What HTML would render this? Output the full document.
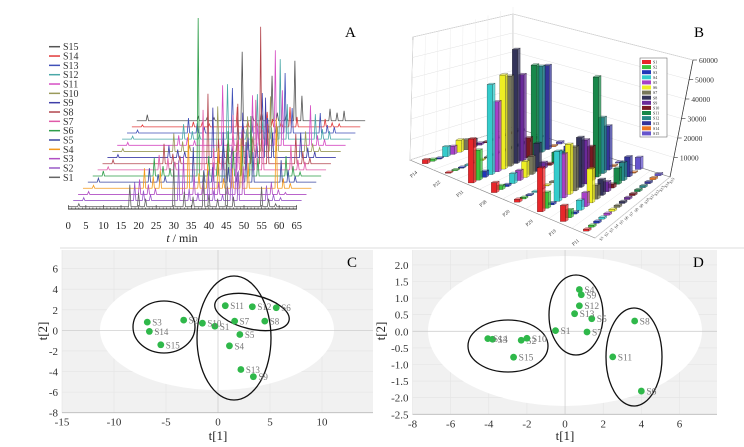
<!DOCTYPE html>
<html><head><meta charset="utf-8"><style>
body{margin:0;background:#fff}
svg{display:block}
text{font-family:"Liberation Serif",serif}
</style></head><body>
<svg id="fig" width="744" height="447" viewBox="0 0 744 447" xmlns="http://www.w3.org/2000/svg">
<g id="pA"></g>
<g id="pB"></g>
<g id="pC"></g>
<g id="pD"></g>
<line x1="60" y1="248" x2="744" y2="248" stroke="#ddd" stroke-width="1"/>
<text x="345" y="37" font-size="15">A</text>
<text x="694" y="37" font-size="15">B</text>
<text x="347" y="267" font-size="15">C</text>
<text x="693" y="267" font-size="15">D</text>
</svg>
<script>
const NS="http://www.w3.org/2000/svg";
function mk(p,tag,at){const e=document.createElementNS(NS,tag);for(const k in at)e.setAttribute(k,at[k]);p.appendChild(e);return e;}

// ---------- Panel A data ----------
const sampleNames=["S1","S2","S3","S4","S5","S6","S7","S8","S9","S10","S11","S12","S13","S14","S15"];
const traceColors=["#666","#9a5cc8","#b14fc4","#f39a1c","#3a47a0","#2e9e4a","#e05aa8","#b2454d","#3f3fa8","#9a9a5a","#d64fc4","#4aa8a8","#4050b8","#e23a3a","#555"];
const peakTimes=[3,17.5,20,22,30,33,35.5,38.5,40,42.5,45,47,55,57,59];
const peakH=[
[3,22,14,8,45,15,10,35,12,8,48,10,20,8,3],
[3,18,10,6,40,12,8,30,10,6,45,30,15,6,3],
[3,15,10,6,38,20,12,32,12,8,42,28,12,5,2],
[3,20,12,18,55,15,25,40,10,20,50,25,70,10,5],
[4,14,8,6,35,12,15,50,15,10,40,30,22,12,6],
[5,18,10,8,158,20,15,45,25,30,60,18,20,10,4],
[3,15,12,8,60,22,18,55,30,20,70,40,25,10,8],
[4,20,10,8,70,25,20,60,35,25,137,40,30,12,6],
[3,12,8,6,50,15,12,45,20,15,60,25,25,10,6],
[3,18,10,6,45,12,10,35,15,12,55,25,20,8,4],
[3,10,8,5,60,10,15,50,20,25,95,55,40,10,6],
[3,15,8,5,55,12,10,45,18,12,80,35,25,10,8],
[3,15,10,6,45,10,12,40,15,10,60,25,20,8,6],
[2,5,4,3,20,6,5,15,8,5,20,10,8,4,3],
[6,4,3,3,69,5,8,45,8,6,60,25,12,8,10]];
const timeTicks=[0,5,10,15,20,25,30,35,40,45,50,55,60,65];

(function(){
const g=document.getElementById('pA');
const tx=t=>68.3+t*3.514, base0=206.7, dX=4.89, dY=-6.14;
for(let s=14;s>=0;s--){
  const ox=s*dX, by=base0+s*dY;
  const idx=peakTimes.map((t,i)=>i).sort((a,b)=>peakTimes[a]-peakTimes[b]);
  let d=`M${tx(0)+ox},${by}`;
  idx.forEach(i=>{const x=tx(peakTimes[i])+ox;d+=` L${x-1.2},${by} L${x},${by-peakH[s][i]} L${x+1.2},${by}`;});
  d+=` L${tx(65)+ox},${by}`;
  const p=mk(g,'path',{d,fill:'none',stroke:traceColors[s],'stroke-width':0.8});
  
  
}
for(let s=14;s>=0;s--){
  const y=46.7+(14-s)*9.33;
  const l=mk(g,'line',{x1:49,y1:y,x2:60,y2:y,stroke:traceColors[s],'stroke-width':1.5});
  
  
  const t=mk(g,'text',{x:63,y:y+3.5,'font-size':10,fill:'#333'});t.textContent=sampleNames[s];
  
  
}
const ax=mk(g,'line',{x1:68,y1:209,x2:297,y2:209,stroke:'#333','stroke-width':1});

for(let m=0;m<=65;m++){mk(g,'line',{x1:tx(m),y1:209,x2:tx(m),y2:m%5==0?205:207.5,stroke:'#333','stroke-width':0.6});}
timeTicks.forEach(v=>{const t=mk(g,'text',{x:tx(v),y:229,'font-size':10.5,'text-anchor':'middle',fill:'#222'});t.textContent=v;
 });
const xt=mk(g,'text',{x:182,y:242,'font-size':12,'text-anchor':'middle',fill:'#222'});
xt.innerHTML='<tspan font-style="italic">t</tspan> / min';

})();

// ---------- Panel B data ----------
const barCats=["P14","P22","P31","P38","P20","P29","P19","P11"];
const barColors=["#e8262a","#3cc43c","#2236b8","#35cccc","#a640c8","#eeee22","#77775a","#33335a","#6a2a9a","#7a1a22","#18884a","#278888","#34349a","#ee7722","#6655cc"];
const barVals=[
[2000,1000,500,5000,4000,6000,5000,4000,1000,500,500,500,500,500,500],
[500,500,500,500,500,500,500,500,500,500,500,500,500,500,500],
[22000,15000,3000,45000,35000,47000,45000,57000,43000,10000,45000,43000,42000,500,1000],
[5000,2000,1000,5000,5000,8000,9000,14000,3000,1000,5000,4000,5000,500,500],
[1500,800,500,500,500,500,500,500,500,500,500,500,500,500,500],
[22000,8000,1000,25000,22000,25000,22000,25000,22000,17000,50000,28000,22000,500,500],
[8000,4000,1000,5000,7000,17000,7000,8000,5000,2000,8000,9000,10000,500,6000],
[1000,1000,1000,1000,1000,1000,1000,1000,1000,1000,1000,1000,1000,1000,1000]];
const zTicks=[10000,20000,30000,40000,50000,60000];

(function(){
const g=document.getElementById('pB');
const A=[410,160],B=[595,238],C=[670,177],D=[513,127];
const P=(u,v)=>{const x=(1-u)*(1-v)*A[0]+u*(1-v)*B[0]+u*v*C[0]+(1-u)*v*D[0];
 const y=(1-u)*(1-v)*A[1]+u*(1-v)*B[1]+u*v*C[1]+(1-u)*v*D[1];return [x,y];};
const hs=v=>v/1000*2;
mk(g,'polygon',{points:'410,160 413,37 513,14 513,127',fill:'#fff',stroke:'#999','stroke-width':0.6});
mk(g,'polygon',{points:'513,127 513,14 693,60 670,177',fill:'#fff',stroke:'#999','stroke-width':0.6});
mk(g,'polygon',{points:'410,160 513,127 670,177 595,238',fill:'#fff',stroke:'#888','stroke-width':0.6});
for(let k=1;k<=6;k++){const f=k/6;
 mk(g,'line',{x1:410+3*f,y1:160-123*f,x2:513,y2:127-113*f,stroke:'#e2e2e2','stroke-width':0.5});
 mk(g,'line',{x1:513,y1:127-113*f,x2:670+23*f,y2:177-117*f,stroke:'#e2e2e2','stroke-width':0.5});}
for(let i=0;i<=8;i++){const a=P(i/8,0),b=P(i/8,1);mk(g,'line',{x1:a[0],y1:a[1],x2:b[0],y2:b[1],stroke:'#e6e6e6','stroke-width':0.5});
 const up=i/8;const x1=410+(513-410)*up,y1=160+(127-160)*up;mk(g,'line',{x1:x1,y1:y1,x2:x1+(up<1?3*(1-up):0),y2:y1-120,stroke:'#ececec','stroke-width':0.5});}
const bars=[];
barCats.forEach((c,i)=>barVals[i].forEach((v,j)=>{const p=P((i+0.5)/8,(j+0.5)/15);bars.push({i,j,v,p});}));
bars.sort((a,b)=>a.p[1]-b.p[1]);
bars.forEach(b=>{const [x,y]=b.p,h=hs(b.v),w=5.5,col=barColors[b.j];
 const grp=mk(g,'g',{});
 
 
 mk(grp,'polygon',{points:`${x+w/2},${y} ${x+w/2+2.5},${y-1.5} ${x+w/2+2.5},${y-h-1.5} ${x+w/2},${y-h}`,fill:col,'fill-opacity':0.75,stroke:'#000','stroke-width':0.2});
 mk(grp,'rect',{x:x-w/2,y:y-h,width:w,height:h,fill:col,stroke:'#000','stroke-width':0.2});
 mk(grp,'polygon',{points:`${x-w/2},${y-h} ${x-w/2+2.5},${y-h-1.5} ${x+w/2+2.5},${y-h-1.5} ${x+w/2},${y-h}`,fill:col,'fill-opacity':0.55,stroke:'#000','stroke-width':0.2});
});
barCats.forEach((c,i)=>{const p=P((i+0.5)/8,0);const t=mk(g,'text',{x:p[0]-4,y:p[1]+8,'font-size':5,fill:'#333',transform:`rotate(-40 ${p[0]-4} ${p[1]+8})`,'text-anchor':'end'});t.textContent=c;
 });
sampleNames.forEach((s,j)=>{const p=P(1,(j+0.5)/15);const t=mk(g,'text',{x:p[0]+4,y:p[1]+5,'font-size':4,fill:'#333',transform:`rotate(-60 ${p[0]+4} ${p[1]+5})`});t.textContent=s;
 });
mk(g,'line',{x1:670,y1:177,x2:693,y2:60,stroke:'#333','stroke-width':0.7});
zTicks.forEach(v=>{const f=v/60000,x=670+23*f,y=177-117*f;
 mk(g,'line',{x1:x,y1:y,x2:x+4,y2:y,stroke:'#333','stroke-width':0.6});
 const t=mk(g,'text',{x:x+6,y:y+3,'font-size':7.5,fill:'#333'});t.textContent=v;
 });
const lg=mk(g,'g',{});
mk(lg,'rect',{x:640,y:58,width:27,height:79,fill:'#fff',stroke:'#555','stroke-width':0.5});
sampleNames.forEach((s,j)=>{const y=60+j*5.1;mk(lg,'rect',{x:642,y:y,width:9,height:4,fill:barColors[j]});
 const t=mk(lg,'text',{x:653,y:y+3.6,'font-size':4,fill:'#222'});t.textContent=s;});
})();

// ---------- Panel C data ----------
const cLabels=["S1","S2","S3","S4","S5","S6","S7","S8","S9","S10","S11","S12","S13","S14","S15"];
const cX=[-0.3,-3.3,-6.8,1.1,2.1,5.6,1.6,4.5,3.4,-1.5,0.7,3.3,2.2,-6.6,-5.5];
const cY=[0.4,1.0,0.8,-1.5,-0.4,2.2,0.9,0.9,-4.5,0.7,2.4,2.3,-3.8,-0.1,-1.4];
const cXTicks=[-15,-10,-5,0,5,10];
const cYTicks=[-8,-6,-4,-2,0,2,4,6];
// ---------- Panel D data ----------
const dLabels=["S1","S2","S3","S4","S5","S6","S7","S8","S9","S10","S11","S12","S13","S14","S15"];
const dX=[-0.5,-2.3,-3.8,0.75,1.4,4.0,1.15,3.65,0.85,-2.0,2.5,0.75,0.5,-4.05,-2.7];
const dY=[0.02,-0.27,-0.24,1.26,0.38,-1.8,-0.02,0.31,1.1,-0.21,-0.77,0.77,0.53,-0.22,-0.78];
const dXTicks=[-8,-6,-4,-2,0,2,4,6];
const dYTicks=[-2.5,-2.0,-1.5,-1.0,-0.5,0.0,0.5,1.0,1.5,2.0];

function scatter(g,o){
 const sx=v=>o.x0+(v-o.xmin)*o.kx, sy=v=>o.y0-(v-o.ymin)*o.ky;
 const L=sx(o.xmin),R=o.right,T=o.top,Bt=sy(o.ymin);
 mk(g,'rect',{x:L,y:T,width:R-L,height:Bt-T,fill:'#f1f1f1'});
 o.xt.forEach(v=>mk(g,'line',{x1:sx(v),y1:T,x2:sx(v),y2:Bt,stroke:'#e4e4e4','stroke-width':0.6}));
 o.yt.forEach(v=>mk(g,'line',{x1:L,y1:sy(v),x2:R,y2:sy(v),stroke:'#e4e4e4','stroke-width':0.6}));
 const el=mk(g,'ellipse',{cx:o.ell[0],cy:o.ell[1],rx:o.ell[2],ry:o.ell[3],fill:'#fff'});
 
 mk(g,'line',{x1:L,y1:sy(0),x2:R,y2:sy(0),stroke:'#d0d0d0','stroke-width':0.8});
 mk(g,'line',{x1:sx(0),y1:T,x2:sx(0),y2:Bt,stroke:'#d0d0d0','stroke-width':0.8});
 mk(g,'line',{x1:L,y1:Bt,x2:R,y2:Bt,stroke:'#bbb','stroke-width':0.8});
 o.xt.forEach(v=>{const t=mk(g,'text',{x:sx(v),y:Bt+13,'font-size':11,'text-anchor':'middle',fill:'#333'});t.textContent=v;
  });
 o.yt.forEach(v=>{const t=mk(g,'text',{x:L-4,y:sy(v)+4,'font-size':11,'text-anchor':'end',fill:'#333'});t.textContent=o.fmt(v);
  });
 const xl=mk(g,'text',{x:o.xlab[0],y:o.xlab[1],'font-size':13,'text-anchor':'middle',fill:'#222'});xl.textContent='t[1]';
 
 const yl=mk(g,'text',{x:o.ylab[0],y:o.ylab[1],'font-size':13,'text-anchor':'middle',fill:'#222',transform:`rotate(-90 ${o.ylab[0]} ${o.ylab[1]})`});yl.textContent='t[2]';
 
 o.groups.forEach(e=>{const c=mk(g,'ellipse',{cx:e[0],cy:e[1],rx:e[2],ry:e[3],fill:'none',stroke:'#111','stroke-width':1.3,transform:`rotate(${e[4]} ${e[0]} ${e[1]})`});
  });
 o.X.forEach((v,i)=>{const x=sx(v),y=sy(o.Y[i]);
  const p=mk(g,'circle',{cx:x,cy:y,r:3.4,fill:'#2fb84a'});
  
  const t=mk(g,'text',{x:x+5,y:y+3.5,'font-size':o.fs,fill:'#777','font-family':o.ff});t.textContent=o.lab[i];
  });
}
scatter(document.getElementById('pC'),{x0:62,xmin:-15,kx:10.4,y0:412.7,ymin:-8,ky:10.29,right:373,top:250,
 xt:cXTicks,yt:cYTicks,fmt:v=>v,ell:[217,330,117,60],xlab:[218,440],ylab:[47,331],
 groups:[[164,327,31,26,0],[234,338,37,62,0],[252,312,38,17,13]],X:cX,Y:cY,lab:cLabels,fs:9,ff:'"Liberation Sans",sans-serif'});
scatter(document.getElementById('pD'),{x0:412.5,xmin:-8,kx:19.07,y0:414.3,ymin:-2.5,ky:33.2,right:717,top:250,
 xt:dXTicks,yt:dYTicks,fmt:v=>v.toFixed(1),ell:[565,331,137,75],xlab:[565,440],ylab:[385,331],
 groups:[[508,346,40,26,0],[576,315,27,40,0],[634,357,28,49,0]],X:dX,Y:dY,lab:dLabels,fs:9.5,ff:'"Liberation Serif",serif'});
</script>
</body></html>
